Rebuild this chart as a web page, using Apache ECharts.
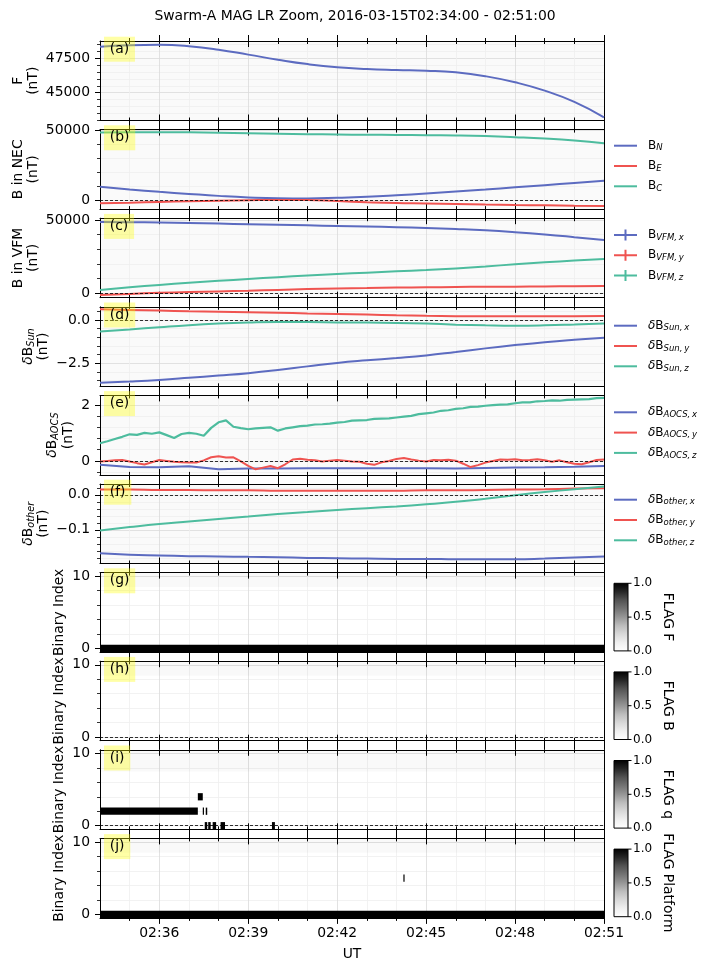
<!DOCTYPE html>
<html>
<head>
<meta charset="utf-8">
<script src="https://cdn.jsdelivr.net/npm/echarts@6/dist/echarts.min.js"></script>
<style>
  html, body { margin: 0; padding: 0; background: #fff; }
  #chart { width: 710px; height: 971px; }
</style>
</head>
<body>
<div id="chart"></div>
<script>
// ---- time axis (seconds after 02:34:00) ----
const startTime = '02:34:00';
const endTime = '02:51:00';
const minuteTimes = ['02:34', '02:35', '02:36', '02:37', '02:38', '02:39', '02:40', '02:41', '02:42',
  '02:43', '02:44', '02:45', '02:46', '02:47', '02:48', '02:49', '02:50', '02:51'];
const xMajorTicks = ['02:36', '02:39', '02:42', '02:45', '02:48', '02:51'];
const xMinorTicks = ['02:35', '02:37', '02:38', '02:40', '02:41', '02:43', '02:44', '02:46', '02:47', '02:49', '02:50'];

// ---- (a) F ----
const F = [48340, 48450, 48480, 48380, 48130, 47770, 47400, 47080, 46850, 46720, 46650, 46600, 46480, 46200, 45760, 45150, 44330, 43210];

// ---- (b) B in NEC ----
const B_N = [9670, 7800, 6100, 4600, 3200, 2100, 1500, 1400, 1800, 2500, 3600, 4900, 6300, 7700, 9250, 10800, 12400, 13940];
const B_E = [-2130, -1700, -1100, -600, -200, 100, 300, 200, -500, -1300, -1900, -2200, -2600, -3000, -3300, -3500, -3800, -4050];
const B_C = [48300, 48400, 48420, 48340, 48120, 47760, 47390, 47070, 46820, 46650, 46520, 46340, 46120, 45680, 44950, 44000, 42600, 40600];

// ---- (c) B in VFM ----
const B_VFM_x = [48700, 48500, 48250, 47900, 47550, 47150, 46750, 46350, 45950, 45550, 45100, 44550, 43850, 42950, 41700, 40150, 38300, 36300];
const B_VFM_y = [-1160, -400, 300, 850, 1300, 1750, 2300, 2850, 3300, 3600, 3900, 4100, 4300, 4450, 4550, 4700, 4850, 5000];
const B_VFM_z = [2250, 4100, 5700, 7200, 8500, 9750, 11000, 12100, 13200, 14100, 15000, 15900, 17000, 18300, 19800, 21100, 22300, 23400];

// ---- (d) dB Sun ----
const dB_Sun_x = [-3.62, -3.55, -3.46, -3.34, -3.21, -3.07, -2.89, -2.68, -2.48, -2.33, -2.20, -2.05, -1.85, -1.64, -1.45, -1.28, -1.14, -1.02];
const dB_Sun_y = [0.62, 0.58, 0.54, 0.50, 0.47, 0.44, 0.41, 0.38, 0.35, 0.31, 0.27, 0.24, 0.22, 0.21, 0.21, 0.21, 0.22, 0.23];
const dB_Sun_z = [-0.67, -0.55, -0.42, -0.30, -0.21, -0.15, -0.12, -0.12, -0.14, -0.15, -0.17, -0.21, -0.27, -0.31, -0.33, -0.31, -0.26, -0.20];

// ---- (e) dB AOCS (y, z sampled every 15 s) ----
const aocsStep = 15;
const dB_AOCS_x = [-0.14, -0.22, -0.23, -0.19, -0.30, -0.27, -0.27, -0.26, -0.26, -0.26, -0.26, -0.26, -0.27, -0.25, -0.24, -0.23, -0.21, -0.18];
const dB_AOCS_y = [-0.02, 0.00, 0.02, 0.03, -0.02, -0.08, -0.13, -0.05, 0.03, 0.00,
  -0.03, -0.05, -0.06, -0.06, 0.02, 0.13, 0.17, 0.12, 0.13, -0.02,
  -0.18, -0.30, -0.24, -0.18, -0.26, -0.12, 0.05, 0.08, 0.04, 0.02,
  -0.02, 0.01, 0.03, 0.01, -0.02, -0.03, -0.10, -0.14, -0.05, 0.00,
  0.07, 0.10, 0.05, 0.01, -0.02, 0.03, 0.02, 0.04, 0.01, -0.10,
  -0.22, -0.15, -0.06, 0.00, 0.05, 0.04, 0.06, 0.02, 0.03, 0.06,
  0.02, -0.03, 0.02, -0.05, -0.10, -0.12, -0.05, 0.03, 0.05];
const dB_AOCS_z = [0.63, 0.70, 0.78, 0.86, 0.95, 0.93, 1.00, 0.97, 1.02, 0.92,
  0.82, 0.96, 1.00, 0.97, 0.90, 1.18, 1.38, 1.45, 1.22, 1.17,
  1.13, 1.16, 1.18, 1.20, 1.08, 1.16, 1.20, 1.24, 1.26, 1.30,
  1.31, 1.33, 1.37, 1.39, 1.44, 1.45, 1.46, 1.50, 1.51, 1.52,
  1.55, 1.58, 1.61, 1.67, 1.70, 1.73, 1.79, 1.81, 1.86, 1.88,
  1.93, 1.94, 1.97, 1.99, 2.01, 2.02, 2.06, 2.09, 2.09, 2.13,
  2.14, 2.16, 2.15, 2.18, 2.19, 2.20, 2.21, 2.24, 2.25];

// ---- (f) dB other ----
const dB_other_x = [-0.167, -0.171, -0.173, -0.175, -0.176, -0.177, -0.178, -0.180, -0.181, -0.182, -0.183, -0.183, -0.184, -0.184, -0.184, -0.182, -0.179, -0.176];
const dB_other_y = [0.015, 0.015, 0.014, 0.014, 0.013, 0.013, 0.012, 0.012, 0.012, 0.012, 0.012, 0.013, 0.013, 0.014, 0.015, 0.016, 0.018, 0.019];
const dB_other_z = [-0.102, -0.092, -0.083, -0.076, -0.069, -0.062, -0.055, -0.049, -0.043, -0.038, -0.033, -0.027, -0.020, -0.011, -0.001, 0.008, 0.016, 0.024];

// ---- (g)-(j) flags: [start, end, bit] where the bit is set ----
const flagF = [['02:34:00', '02:51:00', 0]];
const flagB = [];
const flagQ = [['02:34:00', '02:37:18', 2], ['02:37:18', '02:37:28', 4], ['02:37:28', '02:37:30', 2], ['02:37:34', '02:37:37', 2],
  ['02:37:32', '02:37:37', 0], ['02:37:39', '02:37:44', 0], ['02:37:48', '02:37:55', 0], ['02:38:04', '02:38:13', 0], ['02:39:48', '02:39:54', 0]];
const flagPlatform = [['02:34:00', '02:51:00', 0], ['02:44:14', '02:44:16', 5]];
const flagBits = [9, 9, 8, 9];
const flagNames = ['FLAG F', 'FLAG B', 'FLAG q', 'FLAG Platform'];
const colorbarTicks = [0, 0.5, 1];
const colorbarLabels = ['0.0', '0.5', '1.0'];

// ---- y ticks ----
const aTicks = [45000, 47500], aMinor = [43000, 43500, 44000, 44500, 45500, 46000, 46500, 47000, 48000, 48500];
const bTicks = [0, 50000], bMinor = [10000, 20000, 30000, 40000];
const dTicks = [-2.5, 0], dLabels = ['\u22122.5', '0.0'], dMinor = [-3.5, -3, -2, -1.5, -1, -0.5, 0.5];
const eTicks = [0, 2], eMinor = [-0.4, 0.4, 0.8, 1.2, 1.6];
const fTicks = [-0.1, 0], fLabels = ['\u22120.1', '0.0'], fMinor = [-0.18, -0.16, -0.14, -0.12, -0.08, -0.06, -0.04, -0.02, 0.02];
const flagTicks = [0, 10], flagMinor = [2, 4, 6, 8];

const panelLetters = ['(a)', '(b)', '(c)', '(d)', '(e)', '(f)', '(g)', '(h)', '(i)', '(j)'];

// ---------------------------------------------------------------
const FONT = 'DejaVu Sans';
const FS = 13.9;
const blue = '#5c6bc0', red = '#ef5350', green = '#4dbc9e';

function toSec(s) {
  const p = s.split(':').map(Number);
  const b = startTime.split(':').map(Number);
  return (p[0] * 3600 + p[1] * 60 + (p[2] || 0)) - (b[0] * 3600 + b[1] * 60 + b[2]);
}
const tMax = toSec(endTime);
const xMajorSec = xMajorTicks.map(toSec);
const xMinorSec = xMinorTicks.map(toSec);
const perMinute = arr => arr.map((v, i) => [toSec(minuteTimes[i]), v]);
const perStep = arr => arr.map((v, i) => [i * aocsStep, v]);

const tops = [41, 129.6, 218.2, 306.8, 395.4, 484, 572.6, 661.2, 749.8, 838.4];
const panelH = 79.5;
const gapH = 9.1;

const nameRich = {
  m: { fontFamily: FONT, fontSize: FS, lineHeight: 15.5, color: '#000' },
  i: { fontFamily: FONT, fontSize: FS, lineHeight: 15.5, fontStyle: 'italic', color: '#000' },
  s: { fontFamily: FONT, fontSize: 9.7, lineHeight: 8, fontStyle: 'italic', verticalAlign: 'bottom', color: '#000' }
};

const flagAxis = { min: -0.5, max: 10.5, major: flagTicks, labels: ['0', '10'], minor: flagMinor, name: '{m|Binary Index}', gap: 32.5 };
const panels = [
  { min: 42980, max: 48760, major: aTicks, labels: aTicks.map(String), minor: aMinor, name: '{m|F}\n{m|(nT)}', gap: 58.5 },
  { min: -6200, max: 50300, major: bTicks, labels: bTicks.map(String), minor: bMinor, name: '{m|B in NEC}\n{m|(nT)}', gap: 58.5 },
  { min: -3000, max: 51230, major: bTicks, labels: bTicks.map(String), minor: bMinor, name: '{m|B in VFM}\n{m|(nT)}', gap: 58.5 },
  { min: -3.83, max: 0.76, major: dTicks, labels: dLabels, minor: dMinor, name: '{i|\u03b4}{m|B}{s|Sun}\n{m|(nT)}', gap: 48.5 },
  { min: -0.5, max: 2.34, major: eTicks, labels: eTicks.map(String), minor: eMinor, name: '{i|\u03b4}{m|B}{s|AOCS}\n{m|(nT)}', gap: 24 },
  { min: -0.196, max: 0.031, major: fTicks, labels: fLabels, minor: fMinor, name: '{i|\u03b4}{m|B}{s|other}\n{m|(nT)}', gap: 48.5 },
  flagAxis, flagAxis, flagAxis, flagAxis
];

const grid = [], xAxis = [], yAxis = [], series = [], graphic = [];
const xMain = [], yMain = [];
const tickLine = { color: '#000', width: 1 };
const labelStyle = { fontFamily: FONT, fontSize: FS, color: '#000' };

function xAx(p, pos, inside, len, values, extra) {
  return Object.assign({
    gridIndex: p, type: 'value', position: pos, min: 0, max: tMax,
    axisLine: { show: false, onZero: false },
    axisTick: { show: true, inside: inside, length: len, customValues: values, lineStyle: tickLine },
    axisLabel: { show: false },
    splitLine: { show: false }
  }, extra || {});
}

panels.forEach((pc, p) => {
  grid.push({
    left: 100, width: 504, top: tops[p], height: panelH, show: true, borderWidth: 0,
    backgroundColor: p < 6 ? '#fafafa' : '#ffffff', containLabel: false, outerBoundsMode: 'none'
  });
  const last = p === 9;
  // bottom minor (inside) with minor grid lines
  xAxis.push(xAx(p, 'bottom', true, 3, xMinorSec, { splitLine: { show: true, lineStyle: { color: '#efefef', width: 0.8 } } }));
  xMain[p] = xAxis.length;
  xAxis.push(xAx(p, 'bottom', true, 6, xMajorSec, {
    axisLine: { show: true, onZero: false, lineStyle: { color: '#000', width: 1 } },
    splitLine: { show: true, lineStyle: { color: '#dadada', width: 0.8 } },
    axisLabel: last ? Object.assign({
      show: true, customValues: xMajorSec, margin: 8,
      formatter: v => xMajorTicks[xMajorSec.indexOf(v)] || ''
    }, labelStyle) : { show: false },
    name: last ? 'UT' : '', nameLocation: 'middle', nameGap: 29, nameMoveOverlap: false,
    nameTextStyle: labelStyle
  }));
  xAxis.push(xAx(p, 'bottom', false, last ? 6 : gapH, xMajorSec));
  xAxis.push(xAx(p, 'bottom', false, last ? 3 : gapH, xMinorSec));
  xAxis.push(xAx(p, 'top', true, 6, xMajorSec, { axisLine: { show: true, onZero: false, lineStyle: { color: '#000', width: 1 } } }));
  xAxis.push(xAx(p, 'top', true, 3, xMinorSec));
  if (p === 0) {
    xAxis.push(xAx(p, 'top', false, 6, xMajorSec));
    xAxis.push(xAx(p, 'top', false, 3, xMinorSec));
  }

  yAxis.push({
    gridIndex: p, type: 'value', position: 'left', min: pc.min, max: pc.max,
    axisLine: { show: false, onZero: false },
    axisTick: { show: true, inside: false, length: 3, customValues: pc.minor, lineStyle: { color: '#000', width: 0.8 } },
    axisLabel: { show: false },
    splitLine: { show: true, lineStyle: { color: '#efefef', width: 0.8 } }
  });
  yMain[p] = yAxis.length;
  yAxis.push({
    gridIndex: p, type: 'value', position: 'left', min: pc.min, max: pc.max,
    axisLine: { show: true, onZero: false, lineStyle: { color: '#000', width: 1 } },
    axisTick: { show: true, inside: false, length: 5, customValues: pc.major, lineStyle: tickLine },
    axisLabel: Object.assign({
      show: true, customValues: pc.major, margin: 10,
      formatter: v => { const k = pc.major.findIndex(m => Math.abs(m - v) < 1e-9); return k < 0 ? '' : pc.labels[k]; }
    }, labelStyle),
    splitLine: { show: true, lineStyle: { color: '#dadada', width: 0.8 } },
    name: pc.name, nameLocation: 'middle', nameRotate: 90, nameGap: pc.gap, nameMoveOverlap: false,
    nameTextStyle: { rich: nameRich }
  });
  yAxis.push({
    gridIndex: p, type: 'value', position: 'right', min: pc.min, max: pc.max,
    axisLine: { show: true, onZero: false, lineStyle: { color: '#000', width: 1 } },
    axisTick: { show: false }, axisLabel: { show: false }, splitLine: { show: false }
  });

  // dashed zero line
  if (p > 0) {
    series.push({
      type: 'line', name: 'zero' + p, data: [], xAxisIndex: xMain[p], yAxisIndex: yMain[p],
      silent: true, animation: false,
      markLine: {
        silent: true, symbol: 'none', animation: false, label: { show: false },
        lineStyle: { color: '#000', width: 0.8, type: [3, 2] },
        data: [{ yAxis: 0 }]
      }, z: 4
    });
  }

  // panel letter
  graphic.push({
    type: 'text', x: 104, y: tops[p] - 4.3, z: 100,
    style: {
      text: panelLetters[p], font: FS + 'px "' + FONT + '"', fill: '#000',
      align: 'left', verticalAlign: 'top', lineHeight: 16,
      backgroundColor: 'rgba(255,255,0,0.35)', padding: [4.5, 5.8, 4.5, 5.8]
    }
  });
});

function line(p, name, data, color, smooth, width) {
  series.push({
    type: 'line', name: name, data: data, xAxisIndex: xMain[p], yAxisIndex: yMain[p],
    symbol: 'none', showSymbol: false, smooth: smooth ? 0.5 : false,
    lineStyle: { color: color, width: width || 2 }, itemStyle: { color: color },
    animation: false, z: 3
  });
}
line(0, 'F', perMinute(F), blue, true);
line(1, 'B_N', perMinute(B_N), blue, true);
line(1, 'B_E', perMinute(B_E), red, true);
line(1, 'B_C', perMinute(B_C), green, true);
line(2, 'B_VFM_x', perMinute(B_VFM_x), blue, true);
line(2, 'B_VFM_y', perMinute(B_VFM_y), red, true);
line(2, 'B_VFM_z', perMinute(B_VFM_z), green, true);
line(3, 'dB_Sun_x', perMinute(dB_Sun_x), blue, true);
line(3, 'dB_Sun_y', perMinute(dB_Sun_y), red, true);
line(3, 'dB_Sun_z', perMinute(dB_Sun_z), green, true);
line(4, 'dB_AOCS_x', perMinute(dB_AOCS_x), blue, false, 2);
line(4, 'dB_AOCS_y', perStep(dB_AOCS_y), red, false, 2);
line(4, 'dB_AOCS_z', perStep(dB_AOCS_z), green, false, 2.2);
line(5, 'dB_other_x', perMinute(dB_other_x), blue, true);
line(5, 'dB_other_y', perMinute(dB_other_y), red, true);
line(5, 'dB_other_z', perMinute(dB_other_z), green, true);

// flag panels
function renderCell(params, api) {
  const p0 = api.coord([api.value(0), api.value(2) + 0.5]);
  const p1 = api.coord([api.value(1), api.value(2) - 0.5]);
  return {
    type: 'rect',
    shape: { x: p0[0], y: p0[1], width: Math.max(p1[0] - p0[0], 1.2), height: p1[1] - p0[1] },
    style: { fill: '#000' }
  };
}
function renderBand(params, api) {
  const p0 = api.coord([api.value(0), api.value(3)]);
  const p1 = api.coord([api.value(1), api.value(2)]);
  return {
    type: 'rect',
    shape: { x: p0[0], y: p0[1], width: p1[0] - p0[0], height: p1[1] - p0[1] },
    style: { fill: 'rgba(0,0,0,0.022)' }
  };
}
[flagF, flagB, flagQ, flagPlatform].forEach((cells, k) => {
  const p = 6 + k;
  series.push({
    type: 'custom', name: 'band' + k, xAxisIndex: xMain[p], yAxisIndex: yMain[p],
    renderItem: renderBand, data: [[0, tMax, flagBits[k] - 0.5, flagAxis.max]],
    encode: { x: [0, 1], y: [2, 3] }, silent: true, animation: false, z: 1
  });
  series.push({
    type: 'custom', name: 'cells' + k, xAxisIndex: xMain[p], yAxisIndex: yMain[p],
    renderItem: renderCell, data: cells.map(c => [toSec(c[0]), toSec(c[1]), c[2]]),
    encode: { x: [0, 1], y: 2 }, silent: true, animation: false, z: 2
  });

  // colorbar
  const cbTop = tops[p] + 10.7, cbH = 67.6, cbX = 614, cbW = 14;
  graphic.push({
    type: 'rect', z: 100,
    shape: { x: cbX, y: cbTop, width: cbW, height: cbH },
    style: {
      stroke: '#000', lineWidth: 1,
      fill: {
        type: 'linear', x: 0, y: 0, x2: 0, y2: 1,
        colorStops: [
          { offset: 0, color: '#000000' }, { offset: 0.125, color: '#252525' }, { offset: 0.25, color: '#525252' },
          { offset: 0.375, color: '#737373' }, { offset: 0.5, color: '#969696' }, { offset: 0.625, color: '#bdbdbd' },
          { offset: 0.75, color: '#d9d9d9' }, { offset: 0.875, color: '#f0f0f0' }, { offset: 1, color: '#ffffff' }
        ]
      }
    }
  });
  colorbarTicks.forEach((v, j) => {
    const y = cbTop + (1 - v) * cbH;
    graphic.push({ type: 'line', z: 100, shape: { x1: cbX + cbW, y1: y, x2: cbX + cbW + 3.5, y2: y }, style: { stroke: '#000', lineWidth: 1 } });
    graphic.push({
      type: 'text', z: 100, x: cbX + cbW + 5, y: y,
      style: { text: colorbarLabels[j], fontSize: 12, fontFamily: FONT, fill: '#000', align: 'left', verticalAlign: 'middle' }
    });
  });
  graphic.push({
    type: 'text', z: 100, x: 668, y: cbTop + cbH / 2, rotation: -Math.PI / 2,
    style: { text: flagNames[k], font: FS + 'px "' + FONT + '"', fill: '#000', align: 'center', verticalAlign: 'middle' }
  });
});

// legends
const legendLabels = {
  B_N: '{m|B}{s|N}', B_E: '{m|B}{s|E}', B_C: '{m|B}{s|C}',
  B_VFM_x: '{m|B}{s|VFM,\u2009x}', B_VFM_y: '{m|B}{s|VFM,\u2009y}', B_VFM_z: '{m|B}{s|VFM,\u2009z}',
  dB_Sun_x: '{i|\u03b4}{m|B}{s|Sun,\u2009x}', dB_Sun_y: '{i|\u03b4}{m|B}{s|Sun,\u2009y}', dB_Sun_z: '{i|\u03b4}{m|B}{s|Sun,\u2009z}',
  dB_AOCS_x: '{i|\u03b4}{m|B}{s|AOCS,\u2009x}', dB_AOCS_y: '{i|\u03b4}{m|B}{s|AOCS,\u2009y}', dB_AOCS_z: '{i|\u03b4}{m|B}{s|AOCS,\u2009z}',
  dB_other_x: '{i|\u03b4}{m|B}{s|other,\u2009x}', dB_other_y: '{i|\u03b4}{m|B}{s|other,\u2009y}', dB_other_z: '{i|\u03b4}{m|B}{s|other,\u2009z}'
};
const legendRich = {
  m: { fontFamily: FONT, fontSize: 12, lineHeight: 14, color: '#000' },
  i: { fontFamily: FONT, fontSize: 12, lineHeight: 14, fontStyle: 'italic', color: '#000' },
  s: { fontFamily: FONT, fontSize: 8.5, lineHeight: 8, fontStyle: 'italic', verticalAlign: 'bottom', color: '#000' }
};
const barIcon = 'path://M0,0h23v2H0z';
const crossIcon = 'path://M0,5.5h23v2H0z M10.5,1h2v11h-2z';
const legendSets = [
  [1, ['B_N', 'B_E', 'B_C'], barIcon],
  [2, ['B_VFM_x', 'B_VFM_y', 'B_VFM_z'], crossIcon],
  [3, ['dB_Sun_x', 'dB_Sun_y', 'dB_Sun_z'], barIcon],
  [4, ['dB_AOCS_x', 'dB_AOCS_y', 'dB_AOCS_z'], barIcon],
  [5, ['dB_other_x', 'dB_other_y', 'dB_other_z'], barIcon]
];
const legendFirstY = { 1: 146.7, 2: 236, 3: 326.7, 4: 413.3, 5: 500.7 };
const legend = legendSets.map(([p, names, icon]) => ({
  left: 614, top: legendFirstY[p] - 7, orient: 'vertical', padding: 0,
  itemWidth: 23, itemHeight: 14, itemGap: 7.3, selectedMode: false,
  data: names.map(n => ({ name: n, icon: icon })),
  formatter: n => legendLabels[n],
  textStyle: { rich: legendRich, padding: [0, 0, 0, 6] }
}));

const chart = echarts.init(document.getElementById('chart'), null, { renderer: 'canvas', width: 710, height: 971 });
chart.setOption({
  animation: false,
  backgroundColor: '#ffffff',
  title: {
    text: 'Swarm-A MAG LR Zoom, 2016-03-15T02:34:00 - 02:51:00',
    left: 'center', top: 9, padding: 0,
    textStyle: { fontFamily: FONT, fontSize: FS, fontWeight: 'normal', color: '#000' }
  },
  grid: grid,
  xAxis: xAxis,
  yAxis: yAxis,
  legend: legend,
  series: series,
  graphic: graphic
});
</script>
</body>
</html>
